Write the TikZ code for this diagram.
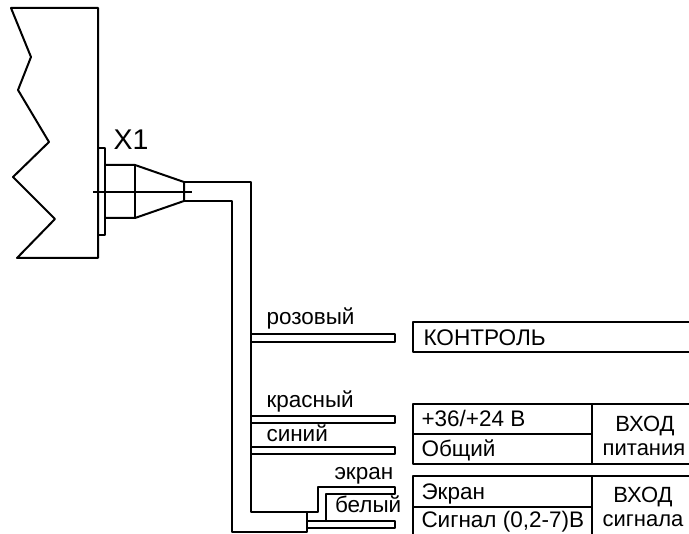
\documentclass[tikz,border=0pt]{standalone}
\usepackage{fontspec}
\setmainfont{Liberation Sans}
\begin{document}
\begin{tikzpicture}[x=1pt,y=-1pt,line width=2pt,line join=round]
\tikzstyle{every node}+=[inner sep=0pt,anchor=base west]
\tikzstyle{wirelabel}=[font=\fontsize{22.5}{22.5}\selectfont]
\tikzstyle{celltext}=[font=\fontsize{22.5}{22.5}\selectfont]
\tikzstyle{sidetext}=[anchor=base,font=\fontsize{22}{22}\selectfont]
\useasboundingbox (0,0) rectangle (689,534);
\draw [black] (11,8) -- (98,8) -- (98,258) -- (17,258) -- (55,219) -- (13,177) -- (49,142) -- (18,90) -- (31,57) -- cycle;
\draw [black] (98,148) -- (105,148) -- (105,235) -- (98,235);
\draw [black] (105,165) -- (135,165) -- (184,182) -- (184,201) -- (135,218) -- (105,218);
\draw [black] (135,165) -- (135,218);
\draw [black,line width=1.2pt] (93,192) -- (192,192);
\draw (112.5,150) node [font=\fontsize{28.5}{28.5}\selectfont] (labelXone) {X1};
\draw [black] (184,182) -- (250.5,182) -- (250.5,512.5) -- (318,512.5) -- (318,487) -- (394.5,487) -- (394.5,494) -- (326,494) -- (326,521.5);
\draw [black] (184,201) -- (232,201) -- (232,532) -- (307,532) -- (307,513);
\draw [black] (307,521.5) -- (394.5,521.5) -- (394.5,528) -- (307,528);
\draw [black] (250.5,334) -- (394.5,334) -- (394.5,342) -- (250.5,342);
\draw [black] (250.5,416) -- (394.5,416) -- (394.5,423) -- (250.5,423);
\draw [black] (250.5,447) -- (394.5,447) -- (394.5,454) -- (250.5,454);
\draw (265.5,325) node [wirelabel] (labelPink) {розовый};
\draw (265.5,408) node [wirelabel] (labelRed) {красный};
\draw (265.5,441.5) node [wirelabel] (labelBlue) {синий};
\draw (333.5,480) node [wirelabel] (labelShield) {экран};
\draw (334,513) node [wirelabel] (labelWhite) {белый};
\draw [black] (689,322) -- (413,322) -- (413,352) -- (689,352);
\draw (422.5,346) node [font=\fontsize{22.6}{22.6}\selectfont] (control) {КОНТРОЛЬ};
\draw [black] (689,404) -- (413,404) -- (413,464) -- (689,464);
\draw [black] (413,434) -- (592,434);
\draw [black] (592,404) -- (592,464);
\draw (420.5,427) node [celltext] (power) {+36/+24 В};
\draw (420.5,457) node [celltext] (common) {Общий};
\draw (645,431.5) node [sidetext] (powerIn) {ВХОД};
\draw (644,456) node [sidetext] (powerName) {питания};
\draw [black] (689,476) -- (413,476) -- (413,536);
\draw [black] (413,507) -- (592,507);
\draw [black] (592,476) -- (592,536);
\draw (420.5,500) node [celltext] (shield) {Экран};
\draw (420.5,528) node [celltext] (signal) {Сигнал (0,2-7)В};
\draw (643,503) node [sidetext] (signalIn) {ВХОД};
\draw (643,527) node [sidetext] (signalName) {сигнала};
\end{tikzpicture}
\end{document}
